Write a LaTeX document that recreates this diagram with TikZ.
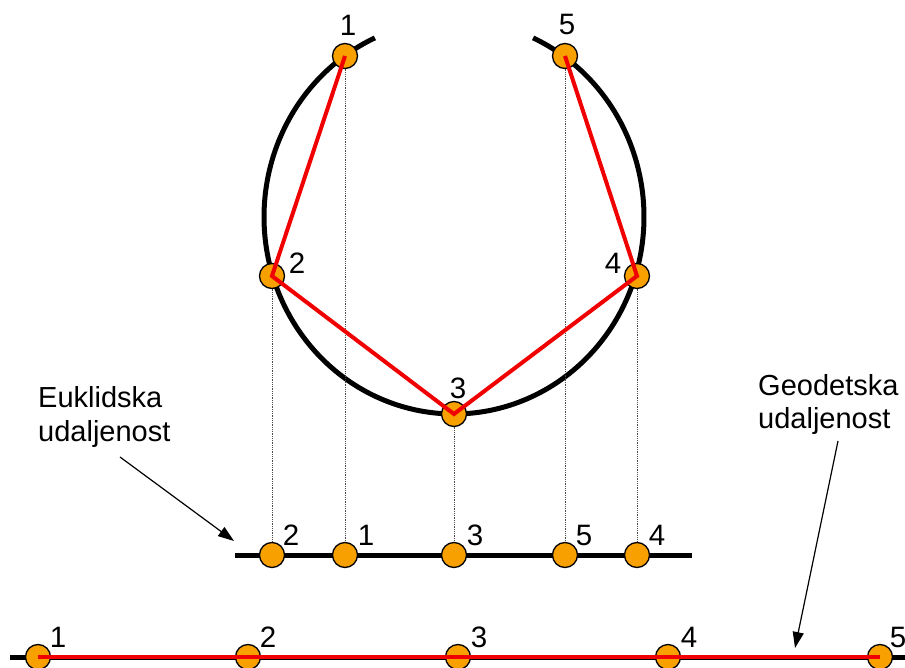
\documentclass[tikz,border=0pt]{standalone}
\usepackage{fontspec}
\setmainfont{Liberation Sans}
\usetikzlibrary{arrows.meta}
\definecolor{mk}{RGB}{247,160,0}
\definecolor{rd}{RGB}{240,0,0}
\begin{document}
\begin{tikzpicture}[x=1pt,y=-1pt,
  marker/.style={circle,draw=black,line width=1.3pt,fill=mk,minimum size=25pt,inner sep=0pt},
  num/.style={font=\fontsize{29.5}{30}\selectfont,inner sep=0pt},
  lbl/.style={font=\fontsize{29}{34}\selectfont,inner sep=0pt,anchor=base west},
  guide/.style={densely dotted,line width=0.8pt,black!70},
  redl/.style={rd,line width=4pt},
  blk/.style={black,line width=5pt},
  ptr/.style={line width=1.2pt,-{Triangle[length=16pt,width=11pt]}}]
\clip (0,0) rectangle (905,668);
\fill[white] (0,0) rectangle (905,668);
% ellipse arc
\draw[blk] plot[domain=114.6:425.4,samples=150,smooth] ({454+190*cos(\x)},{217-197*sin(\x)});
% coordinates of markers
\coordinate (t1) at (345,56);
\coordinate (t2) at (272,276);
\coordinate (t3) at (454,414);
\coordinate (t4) at (637,276);
\coordinate (t5) at (565,56);
\coordinate (m1) at (345,555);
\coordinate (m2) at (272,555);
\coordinate (m3) at (454,555);
\coordinate (m4) at (637,555);
\coordinate (m5) at (565,555);
\coordinate (b1) at (38,657);
\coordinate (b2) at (248,657);
\coordinate (b3) at (458,657);
\coordinate (b4) at (668,657);
\coordinate (b5) at (880,657);
\coordinate (ml) at (235,555);
\coordinate (mr) at (692,555);
\coordinate (bl) at (10,657);
\coordinate (br) at (910,657);
% dotted guides
\foreach \i in {1,...,5} \draw[guide] (t\i) -- (m\i);
% middle line
\draw[blk] (ml) -- (mr);
% bottom line
\draw[blk] (bl) -- (br);
% markers
\foreach \i in {1,...,5} {
  \node[marker] (T\i) at (t\i) {};
  \node[marker] (M\i) at (m\i) {};
  \node[marker] (B\i) at (b\i) {};
}
\draw[redl,line join=miter] (t1) -- (t2) -- (t3) -- (t4) -- (t5);
\draw[redl] (b1) -- (b5);
% labels top
\node[num] (n1) at (348,25) {1};
\node[num] (n5) at (567,25) {5};
\node[num] (n2) at (297,263) {2};
\node[num] (n4) at (613,263) {4};
\node[num] (n3) at (458,388) {3};
% labels middle
\node[num] (k2) at (291,535) {2};
\node[num] (k1) at (366,535) {1};
\node[num] (k3) at (475,535) {3};
\node[num] (k5) at (584,535) {5};
\node[num] (k4) at (657,535) {4};
% labels bottom
\node[num] (g1) at (58,637) {1};
\node[num] (g2) at (268,637) {2};
\node[num] (g3) at (479,637) {3};
\node[num] (g4) at (689,637) {4};
\node[num] (g5) at (898,637) {5};
% texts
\node[lbl] (e1) at (38,407) {Euklidska};
\node[lbl] (e2) at (38,441) {udaljenost};
\node[lbl] (d1) at (758,395) {Geodetska};
\node[lbl] (d2) at (758,428) {udaljenost};
\coordinate (ea) at (120,457);
\coordinate (eb) at (234,541);
\coordinate (da) at (838,441);
\coordinate (db) at (795,648);
\draw[ptr] (ea) -- (eb);
\draw[ptr] (da) -- (db);
\end{tikzpicture}
\end{document}
